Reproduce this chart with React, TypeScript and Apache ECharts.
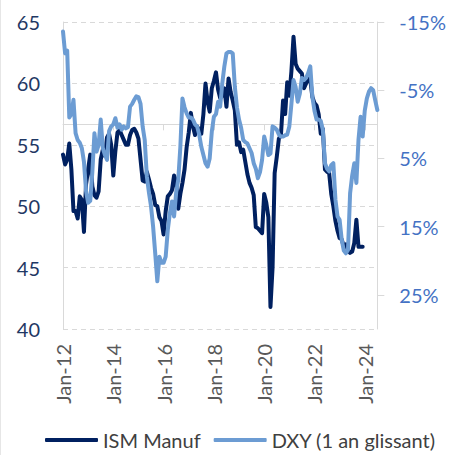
import React, { useEffect, useRef } from "react";
import * as echarts from "echarts";

const MONTHS = ["Jan", "Feb", "Mar", "Apr", "May", "Jun", "Jul", "Aug", "Sep", "Oct", "Nov", "Dec"];
const YEARS = ["12", "13", "14", "15", "16", "17", "18", "19", "20", "21", "22", "23", "24"];
const categories: string[] = [];
YEARS.forEach((y) => MONTHS.forEach((m) => categories.push(`${m}-${y}`)));
categories.length = 151; // Jan-12 .. Jul-24

const ismManuf: (number | null)[] = [
  54.2, 53.4, 53.8, 55.1, 53.0, 49.6, 49.6, 49.0, 50.8, 50.5, 47.9, 51.8,
  53.0, 54.2, 51.6, 50.9, 50.7, 51.2, 53.8, 54.6, 54.1, 55.6, 55.9, 55.0,
  52.5, 54.5, 56.0, 56.2, 55.8, 55.4, 55.0, 55.0, 55.8, 56.2, 56.3, 56.0,
  55.5, 53.8, 52.1, 52.0, 52.8, 52.2, 51.5, 51.0, 50.1, 50.0, 49.1, 48.8,
  47.7, 49.6, 50.8, 51.0, 51.3, 52.5, 52.0, 49.8, 51.0, 51.9, 53.0, 54.8,
  56.0, 57.6, 56.5, 55.8, 56.5, 56.2, 55.9, 57.5, 60.0, 58.5, 57.7, 59.6,
  60.2, 60.9, 59.5, 58.8, 59.0, 59.6, 58.1, 60.4, 59.3, 58.6, 57.8, 55.0,
  55.2, 54.4, 54.6, 53.6, 52.6, 51.9, 51.5, 50.9, 48.3, 48.2, 48.0, 47.8,
  51.0, 50.3, 49.1, 41.8, 45.0, 52.7, 54.0, 55.5, 55.8, 58.6, 57.5, 60.1,
  59.0, 61.0, 63.8, 61.6, 61.2, 61.0, 60.8, 59.6, 60.0, 60.4, 60.3, 58.9,
  58.4, 58.2, 57.5, 55.9, 56.3, 53.0, 52.8, 52.7, 51.0, 50.0, 48.8, 48.0,
  47.4, 47.3, 46.7, 46.9, 46.4, 46.2, 46.3, 47.0, 48.9, 46.7, 46.7, 46.7,
  null, null, null, null, null, null, null,
];

const dxyYoY: number[] = [
  -13.6, -10.4, -10.8, -1.0, -1.5, -3.6, 1.3, 2.3, 2.7, 3.5, 5.5, 9.8,
  11.5, 11.2, 7.0, 1.3, 4.0, 3.0, -0.7, 3.5, 4.5, 5.2, 1.0, 0.3,
  0.0, -0.9, 0.5, 0.0, 0.8, 0.3, 0.6, 0.4, -2.6, -3.0, -3.6, -4.1,
  -4.0, -3.0, 0.3, 2.3, 7.6, 10.0, 12.0, 15.0, 18.9, 23.0, 19.4, 20.3,
  20.3, 19.4, 15.5, 13.0, 11.3, 13.5, 10.0, 8.1, 3.3, -3.8, -2.5, -1.6,
  -1.0, -1.0, -0.7, 0.0, 0.3, 1.5, 3.3, 4.5, 5.7, 6.2, 5.0, 1.1,
  -1.1, -1.5, -3.3, -2.6, -6.0, -8.5, -10.4, -10.6, -10.6, -10.4, -5.5, -2.5,
  -0.7, 0.5, 2.3, 2.6, 2.8, 3.5, 4.2, 5.7, 6.5, 7.9, 7.0, 5.2,
  1.8, 3.0, 4.5, 4.3, 0.3, 0.5, 0.8, 1.5, 1.8, 1.8, 1.6, 1.5,
  0.3, -3.0, -6.5, -5.5, -3.3, -4.5, -6.8, -6.5, -6.8, -7.5, -8.5, -4.0,
  -2.0, -0.7, -0.7, -0.5, 0.8, 5.7, 6.5, 6.9, 6.0, 5.7, 11.0, 13.5,
  14.0, 16.9, 18.5, 18.9, 18.4, 10.1, 7.5, 5.7, 8.6, 2.3, -1.1, 1.8,
  -2.0, -3.8, -4.8, -5.3, -5.0, -3.5, -2.1,
];

const leftTicks = [40, 45, 50, 55, 60, 65];
const rightTicks = [-15, -5, 5, 15, 25];

const FONT = "Lato";

export default function App() {
  const ref = useRef<HTMLDivElement>(null);
  useEffect(() => {
    document.body.style.margin = "0";
    const chart = echarts.init(ref.current!, null, { renderer: "svg" });
    chart.setOption({
      animation: false,
      backgroundColor: "#ffffff",
      textStyle: { fontFamily: FONT },
      grid: { left: 63, right: 69, top: 22, bottom: 126, containLabel: false },
      legend: {
        top: 430,
        left: 45,
        padding: 0,
        itemWidth: 53,
        itemHeight: 4,
        itemGap: 13,
        icon: "roundRect",
        textStyle: { fontFamily: FONT, fontSize: 20, color: "#404040" },
        data: ["ISM Manuf", "DXY (1 an glissant)"],
      },
      xAxis: {
        type: "category",
        data: categories,
        boundaryGap: false,
        axisLine: { show: true, lineStyle: { color: "#D9D9D9", width: 1 } },
        axisTick: {
          show: true,
          length: 6,
          interval: (i: number) => i % 24 === 0,
          lineStyle: { color: "#D9D9D9" },
        },
        axisLabel: {
          interval: (i: number) => i % 24 === 0,
          rotate: 90,
          margin: 15,
          color: "#595959",
          fontFamily: FONT,
          fontSize: 20,
        },
        splitLine: { show: false },
      },
      yAxis: [
        {
          type: "value",
          min: leftTicks[0],
          max: leftTicks[leftTicks.length - 1],
          interval: 5,
          position: "left",
          axisLine: { show: true, lineStyle: { color: "#D9D9D9" } },
          axisTick: { show: false },
          axisLabel: { color: "#1F3864", fontFamily: FONT, fontSize: 20, margin: 23 },
          splitLine: { show: true, lineStyle: { color: "#D9D9D9", type: [5, 4], width: 1 } },
        },
        {
          type: "value",
          min: -15,
          max: 30,
          inverse: true,
          position: "right",
          axisLine: { show: true, lineStyle: { color: "#D9D9D9" } },
          axisTick: {
            show: true,
            length: 7,
            customValues: rightTicks,
            lineStyle: { color: "#D9D9D9" },
          },
          axisLabel: {
            customValues: rightTicks,
            formatter: (v: number) => `${v}%`,
            color: "#4472C4",
            fontFamily: FONT,
            fontSize: 20,
            margin: 22,
          },
          splitLine: { show: false },
        },
      ],
      series: [
        {
          name: "ISM Manuf",
          type: "line",
          yAxisIndex: 0,
          data: ismManuf,
          showSymbol: false,
          symbol: "none",
          lineStyle: { color: "#002060", width: 4, join: "round", cap: "round" },
          itemStyle: { color: "#002060" },
        },
        {
          name: "DXY (1 an glissant)",
          type: "line",
          yAxisIndex: 1,
          data: dxyYoY,
          showSymbol: false,
          symbol: "none",
          lineStyle: { color: "#6C9CD3", width: 4, join: "round", cap: "round" },
          itemStyle: { color: "#6C9CD3" },
        },
      ],
      graphic: [
        {
          type: "line",
          shape: { x1: 0.5, y1: 0, x2: 0.5, y2: 455 },
          style: { stroke: "#E6E6E6", lineWidth: 1 },
        },
      ],
    });
    return () => chart.dispose();
  }, []);
  return <div ref={ref} style={{ width: 449, height: 455 }} />;
}
